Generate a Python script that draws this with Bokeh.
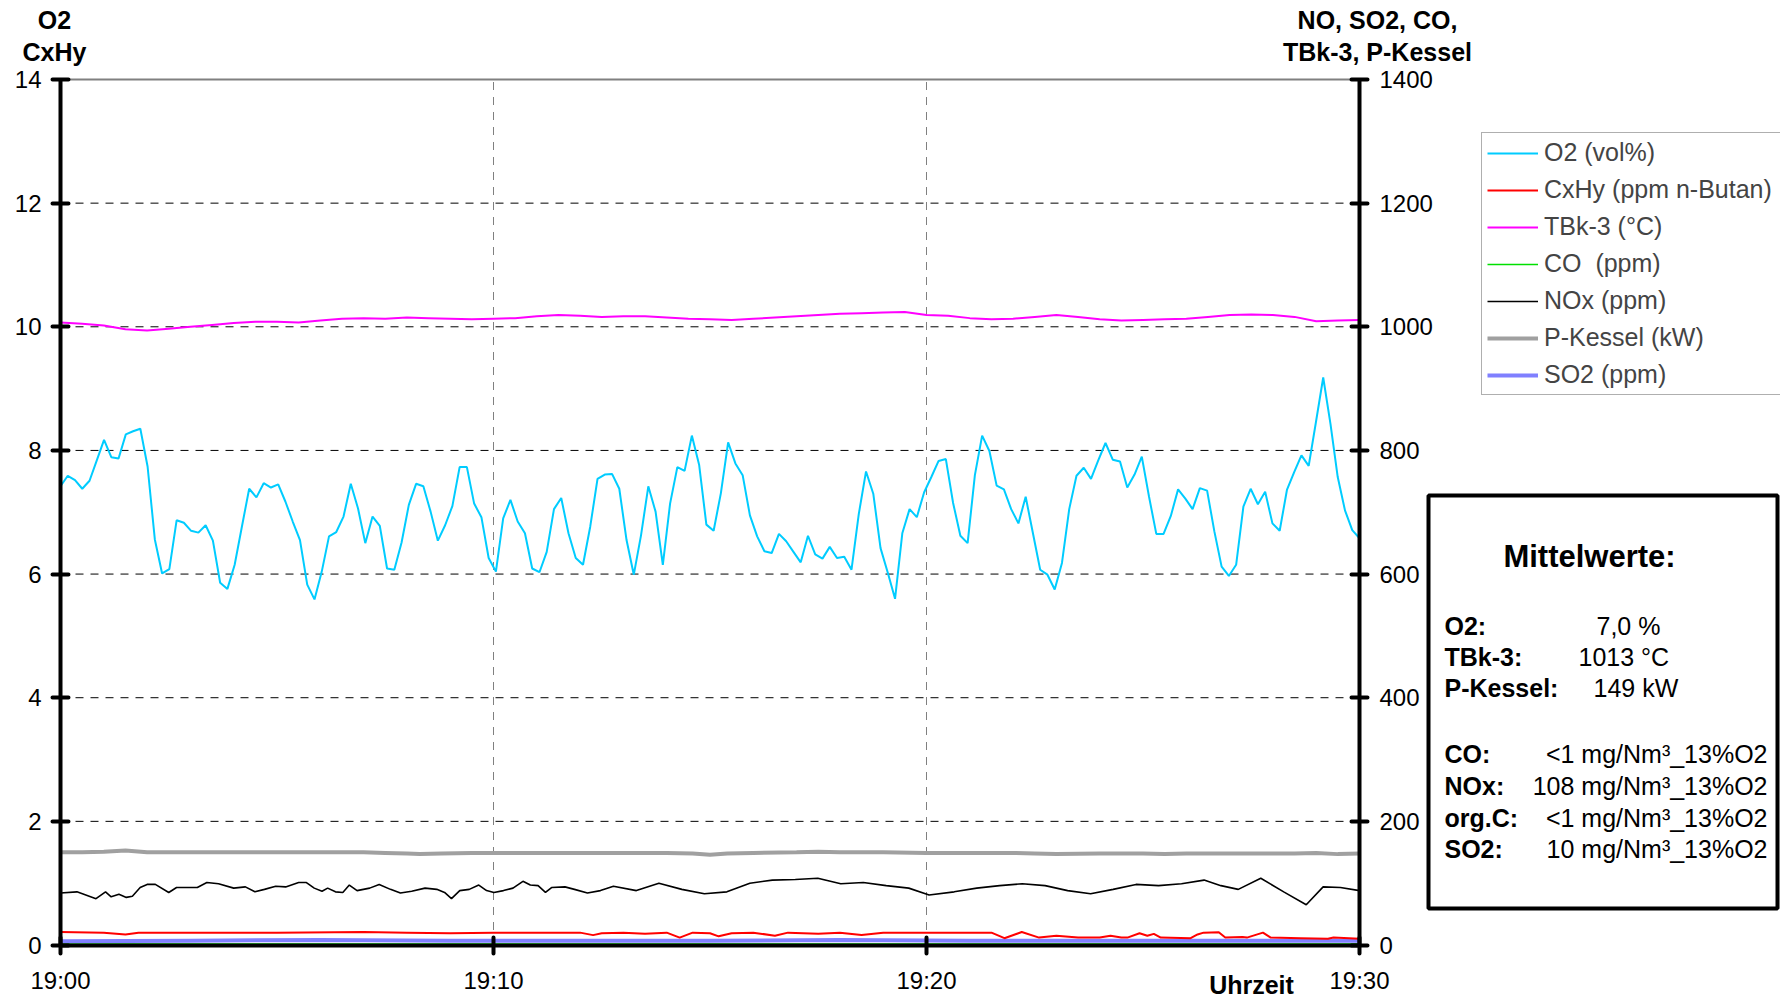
from bokeh.plotting import figure
from bokeh.models import (Range1d, LinearAxis, FixedTicker, Label, Legend,
                          LegendItem, BoxAnnotation)
from bokeh.embed import file_html
from bokeh.resources import INLINE

FONT = "Liberation Sans"

# ---------------- data ----------------
x_ticks = [0, 10, 20, 30]
x_tick_labels = ["19:00", "19:10", "19:20", "19:30"]
left_ticks = [0, 2, 4, 6, 8, 10, 12, 14]
right_ticks = [0, 200, 400, 600, 800, 1000, 1200, 1400]
grid_y = [2, 4, 6, 8, 10, 12]
grid_x = [10, 20]

# O2 (vol%), 10-s samples 19:00 .. 19:30
o2 = [7.42, 7.59, 7.52, 7.38, 7.51, 7.84, 8.17, 7.89, 7.87, 8.26,
      8.31, 8.35, 7.74, 6.56, 6.01, 6.08, 6.87, 6.83, 6.70, 6.67,
      6.79, 6.54, 5.86, 5.76, 6.15, 6.77, 7.38, 7.24, 7.47, 7.40,
      7.45, 7.17, 6.85, 6.55, 5.83, 5.59, 6.04, 6.61, 6.68, 6.93,
      7.46, 7.06, 6.50, 6.93, 6.78, 6.09, 6.07, 6.51, 7.12, 7.46,
      7.42, 7.01, 6.54, 6.79, 7.10, 7.73, 7.73, 7.14, 6.92, 6.26,
      6.04, 6.90, 7.20, 6.85, 6.66, 6.09, 6.03, 6.36, 7.05, 7.23,
      6.66, 6.26, 6.15, 6.77, 7.54, 7.61, 7.62, 7.38, 6.55, 5.99,
      6.63, 7.42, 7.01, 6.15, 7.14, 7.73, 7.67, 8.24, 7.77, 6.80,
      6.70, 7.31, 8.13, 7.79, 7.60, 6.95, 6.61, 6.37, 6.34, 6.65,
      6.53, 6.36, 6.19, 6.62, 6.32, 6.25, 6.44, 6.26, 6.28, 6.07,
      6.97, 7.66, 7.30, 6.42, 6.02, 5.60, 6.66, 7.05, 6.92, 7.32,
      7.57, 7.83, 7.86, 7.15, 6.62, 6.50, 7.60, 8.24, 7.99, 7.43,
      7.37, 7.05, 6.82, 7.25, 6.66, 6.07, 5.99, 5.75, 6.18, 7.05,
      7.59, 7.72, 7.54, 7.84, 8.12, 7.85, 7.82, 7.40, 7.61, 7.90,
      7.25, 6.65, 6.65, 6.94, 7.37, 7.22, 7.05, 7.39, 7.35, 6.69,
      6.12, 5.97, 6.15, 7.09, 7.38, 7.13, 7.33, 6.82, 6.70, 7.36,
      7.65, 7.92, 7.75, 8.46, 9.18, 8.43, 7.57, 7.03, 6.71, 6.58]
o2_t = [i * 30 / (len(o2) - 1) for i in range(len(o2))]

# TBk-3 (deg C), right axis
tbk_t = [0, 0.5, 1.0, 1.5, 2.0, 2.5, 3.0, 3.5, 4.0, 4.5, 5.0, 5.5, 6.0, 6.5,
         7.0, 7.5, 8.0, 8.5, 9.0, 9.5, 10.0, 10.5, 11.0, 11.5, 12.0, 12.5,
         13.0, 13.5, 14.0, 14.5, 15.0, 15.5, 16.0, 16.5, 17.0, 17.5, 18.0,
         18.5, 19.0, 19.5, 20.0, 20.5, 21.0, 21.5, 22.0, 22.5, 23.0, 23.5,
         24.0, 24.5, 25.0, 25.5, 26.0, 26.5, 27.0, 27.5, 28.0, 28.5, 29.0,
         29.5, 30.0]
tbk = [1007, 1005, 1002, 996, 994, 997, 1000, 1003, 1006, 1008, 1008, 1007,
       1010, 1013, 1014, 1013, 1015, 1014, 1013, 1012, 1013, 1014, 1017,
       1019, 1018, 1016, 1017, 1017, 1015, 1013, 1012, 1011, 1013, 1015,
       1017, 1019, 1021, 1022, 1023, 1024, 1019, 1018, 1014, 1012, 1013,
       1016, 1019, 1016, 1012, 1010, 1011, 1012, 1013, 1016, 1019, 1020,
       1019, 1016, 1009, 1010, 1011]

# NOx (ppm), right axis
nox_t = [0.0, 0.38, 0.82, 1.04, 1.17, 1.35, 1.52, 1.66, 1.84, 2.0, 2.19, 2.5,
         2.68, 2.94, 3.16, 3.38, 3.65, 4.0, 4.27, 4.49, 4.71, 4.97, 5.2, 5.5,
         5.68, 5.86, 6.04, 6.17, 6.35, 6.52, 6.67, 6.85, 7.14, 7.36, 7.62,
         7.85, 8.11, 8.42, 8.69, 8.87, 9.03, 9.22, 9.44, 9.66, 9.84, 10.01,
         10.23, 10.45, 10.68, 10.85, 11.03, 11.2, 11.34, 11.65, 11.87, 12.17,
         12.47, 12.77, 13.3, 13.82, 14.35, 14.87, 15.39, 15.92, 16.44, 16.97,
         17.49, 18.02, 18.54, 19.07, 19.59, 20.06, 20.64, 21.16, 21.69, 22.21,
         22.74, 23.26, 23.79, 24.31, 24.84, 25.36, 25.89, 26.41, 26.8, 27.2,
         27.72, 28.25, 28.77, 29.16, 29.56, 30.0]
nox = [84, 86, 75, 86, 78, 82, 77, 79, 93, 98, 98, 85, 93, 93, 93, 101, 99,
       92, 94, 86, 90, 95, 94, 101, 101, 92, 87, 92, 86, 85, 97, 88, 92, 98,
       90, 84, 87, 92, 90, 85, 75, 88, 90, 97, 88, 85, 88, 92, 103, 97, 96,
       85, 93, 94, 90, 84, 88, 95, 88, 100, 90, 83, 86, 100, 105, 106, 108,
       99, 101, 96, 92, 81, 86, 92, 96, 99, 96, 88, 83, 90, 98, 96, 99, 105,
       96, 90, 108, 86, 65, 94, 93, 88]

# P-Kessel (kW), right axis
pk_t = [0, 0.5, 1.0, 1.5, 2.0, 3, 4, 5, 6, 7, 7.5, 8.0, 8.3, 8.8, 9.5, 10, 11,
        12, 13, 14, 14.6, 15.0, 15.4, 16, 17, 17.5, 18, 19, 20, 21, 22, 22.5,
        23, 24, 25, 25.5, 26, 27, 28, 28.5, 29, 29.5, 30]
pk = [150, 150, 151, 153, 150, 150, 150, 150, 150, 150, 149, 148, 147, 148,
      149, 149, 149, 149, 149, 149, 148, 146, 148, 149, 150, 151, 150, 150,
      149, 149, 149, 148, 147, 148, 148, 147, 148, 148, 148, 148, 149, 147,
      148]

# CxHy (ppm n-Butan), left axis
cx_t = [0, 1.0, 1.5, 1.8, 3, 5, 7, 8, 9, 10, 11, 12, 12.3, 12.5, 13, 13.5,
        14, 14.3, 14.6, 15, 15.2, 15.5, 16, 16.5, 16.8, 17.5, 18, 18.5, 19,
        20, 21, 21.5, 21.8, 22.2, 22.6, 23, 23.5, 24.0, 24.25, 24.5, 24.64,
        24.92, 25.1, 25.25, 25.41, 26.1, 26.26, 26.4, 26.75, 26.9, 27.3,
        27.4, 27.77, 27.95, 28.64, 29.27, 29.4, 30]
cx = [0.21, 0.20, 0.17, 0.20, 0.20, 0.20, 0.21, 0.20, 0.19, 0.20, 0.20, 0.20,
      0.16, 0.19, 0.20, 0.18, 0.20, 0.12, 0.20, 0.19, 0.14, 0.19, 0.20, 0.15,
      0.20, 0.18, 0.20, 0.16, 0.20, 0.20, 0.20, 0.20, 0.11, 0.21, 0.12, 0.15,
      0.12, 0.12, 0.15, 0.12, 0.12, 0.19, 0.15, 0.18, 0.12, 0.11, 0.17, 0.20,
      0.205, 0.12, 0.13, 0.12, 0.20, 0.12, 0.11, 0.10, 0.12, 0.10]

# SO2 (ppm) and CO (ppm), right axis
so2_t = [0, 3, 6, 9, 12, 15, 18, 21, 24, 27, 30]
so2 = [6, 7, 8, 7, 7, 7, 8, 7, 7, 7, 7]
co_t = [0, 10, 20, 30]
co = [1.5, 1.5, 1.5, 1.5]

legend_labels = ["O2 (vol%)", "CxHy (ppm n-Butan)", "TBk-3 (°C)", "CO  (ppm)",
                 "NOx (ppm)", "P-Kessel (kW)", "SO2 (ppm)"]

box_title = "Mittelwerte:"
box_rows_top = [("O2:", "7,0 %"), ("TBk-3:", "1013 °C"), ("P-Kessel:", "149 kW")]
box_rows_bottom = [("CO:", "<1 mg/Nm³_13%O2"), ("NOx:", "108 mg/Nm³_13%O2"),
                   ("org.C:", "<1 mg/Nm³_13%O2"), ("SO2:", "10 mg/Nm³_13%O2")]

# ---------------- geometry (page pixels -> data units) ----------------
W, H = 1780, 1000
X_AT_0, X_AT_30 = 60.0, 1359.0      # page px of 19:00 / 19:30
Y_AT_0, Y_AT_14 = 944.5, 79.0       # page px of 0 / 14 on the left scale
PXM = (X_AT_30 - X_AT_0) / 30.0
PXU = (Y_AT_0 - Y_AT_14) / 14.0


def dx(px):
    return (px - X_AT_0) / PXM


def dy(py):
    return (Y_AT_0 - py) / PXU


x_lo, x_hi = dx(0), dx(W)
y_lo, y_hi = dy(H), dy(0)

p = figure(width=W, height=H, x_range=Range1d(x_lo, x_hi), y_range=Range1d(y_lo, y_hi),
           output_backend="svg", toolbar_location=None, min_border=0,
           background_fill_color="white", border_fill_color="white")
p.outline_line_color = None
p.xgrid.visible = False
p.ygrid.visible = False
p.extra_y_ranges = {"right": Range1d(y_lo * 100, y_hi * 100)}


def style_axis(ax):
    ax.axis_line_width = 4
    ax.axis_line_color = "black"
    ax.major_tick_line_width = 4
    ax.major_tick_line_color = "black"
    ax.major_tick_line_cap = "round"
    ax.major_tick_in = 8
    ax.major_tick_out = 8
    ax.minor_tick_line_color = None
    ax.major_label_text_font = FONT
    ax.major_label_text_font_size = "24px"
    ax.major_label_text_color = "black"


# gridlines and top frame line (drawn first, beneath the series)
p.segment(x0=[0] * len(grid_y), x1=[30] * len(grid_y), y0=grid_y, y1=grid_y,
          line_color="black", line_width=1, line_dash="8 7")
p.segment(x0=grid_x, x1=grid_x, y0=[0] * len(grid_x), y1=[14] * len(grid_x),
          line_color="#808080", line_width=1, line_dash="8 7")
p.segment(x0=[0], x1=[30], y0=[14], y1=[14], line_color="#808080", line_width=2)

xa = p.xaxis[0]
xa.ticker = FixedTicker(ticks=x_ticks)
xa.major_label_overrides = {t: s for t, s in zip(x_ticks, x_tick_labels)}
xa.fixed_location = 0
xa.bounds = (0, 30)
style_axis(xa)
xa.major_label_standoff = 14

ya = p.yaxis[0]
ya.ticker = FixedTicker(ticks=left_ticks)
ya.fixed_location = 0
ya.bounds = (0, 14)
style_axis(ya)
ya.major_label_standoff = 11

yr = LinearAxis(y_range_name="right", ticker=FixedTicker(ticks=right_ticks),
                fixed_location=30, bounds=(0, 1400))
style_axis(yr)
yr.major_label_standoff = 12
p.add_layout(yr, "right")

# ---------------- series ----------------
r_pk = p.line(pk_t, pk, y_range_name="right", line_color="#A0A0A0", line_width=4)
r_nox = p.line(nox_t, nox, y_range_name="right", line_color="black", line_width=1.6)
r_co = p.line(co_t, co, y_range_name="right", line_color="#00E000", line_width=1.6)
r_so2 = p.line(so2_t, so2, y_range_name="right", line_color="#8080FF", line_width=4)
r_cx = p.line(cx_t, cx, line_color="#FF0000", line_width=2)
r_tbk = p.line(tbk_t, tbk, y_range_name="right", line_color="#FF00FF", line_width=2)
r_o2 = p.line(o2_t, o2, line_color="#00CCFF", line_width=2)

renderers = [r_o2, r_cx, r_tbk, r_co, r_nox, r_pk, r_so2]
legend = Legend(items=[LegendItem(label=l, renderers=[r]) for l, r in zip(legend_labels, renderers)],
                location=(1481, H - 395), margin=0, padding=5, spacing=8,
                glyph_width=51, glyph_height=24, label_height=24, label_standoff=6,
                label_width=250,
                label_text_font=FONT, label_text_font_size="25px",
                border_line_color="#606060", border_line_width=1,
                background_fill_color="white", background_fill_alpha=1)
p.add_layout(legend)


# ---------------- texts ----------------
def lab(px, py, text, size="25px", bold=False, align="center"):
    p.add_layout(Label(x=dx(px), y=dy(py), text=text, text_font=FONT, text_font_size=size,
                       text_font_style="bold" if bold else "normal",
                       text_align=align, text_baseline="middle", text_color="black"))


lab(54, 19, "O2", bold=True)
lab(54, 51, "CxHy", bold=True)
lab(1377, 19, "NO, SO2, CO,", bold=True)
lab(1377, 51, "TBk-3, P-Kessel", bold=True)
lab(1251, 984, "Uhrzeit", bold=True)

# averages box
p.add_layout(BoxAnnotation(left=dx(1428), right=dx(1777), top=dy(495), bottom=dy(908),
                           fill_color="white", fill_alpha=1,
                           line_color="black", line_width=4, line_alpha=1))
lab(1589, 556, box_title, size="31px", bold=True)
row_py_top = [625, 656, 687]
val_px_top = [1596, 1578, 1593]
for (k, v), py, vx in zip(box_rows_top, row_py_top, val_px_top):
    lab(1444, py, k, bold=True, align="left")
    lab(vx, py, v, align="left")
row_py_bot = [753, 785, 817, 848]
for (k, v), py in zip(box_rows_bottom, row_py_bot):
    lab(1444, py, k, bold=True, align="left")
    lab(1767, py, v, align="right")

open("out.html", "w").write(file_html(p, INLINE))
